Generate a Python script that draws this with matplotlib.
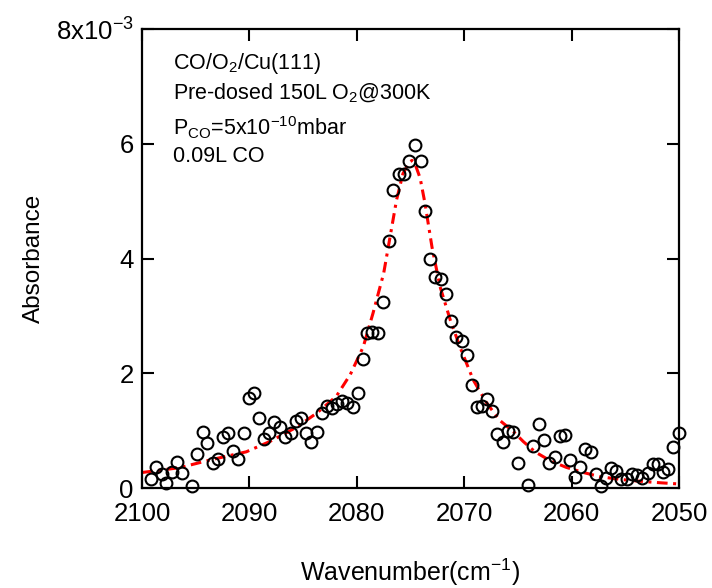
import matplotlib
matplotlib.use("Agg")
import matplotlib.pyplot as plt

plt.rcParams['font.family'] = ['Liberation Sans', 'DejaVu Sans']
plt.rcParams['mathtext.fontset'] = 'custom'
plt.rcParams['mathtext.rm'] = 'Liberation Sans'
plt.rcParams['mathtext.it'] = 'Liberation Sans'
plt.rcParams['mathtext.default'] = 'regular'

# measured data (wavenumber in cm^-1, absorbance in units of 1e-3)
wavenumber = [2099.19, 2098.70, 2098.17, 2097.77, 2097.23, 2096.77, 2096.30, 2095.34,
              2094.85, 2094.35, 2093.92, 2093.42, 2092.90, 2092.43, 2091.96, 2091.50,
              2091.03, 2090.50, 2090.01, 2089.54, 2089.08, 2088.61, 2088.15, 2087.68,
              2087.15, 2086.69, 2086.15, 2085.69, 2085.20, 2084.73, 2084.26, 2083.73,
              2083.27, 2082.80, 2082.31, 2081.87, 2081.41, 2080.88, 2080.38, 2079.86,
              2079.39, 2079.02, 2078.61, 2078.00, 2077.53, 2077.00, 2076.60, 2076.07,
              2075.61, 2075.11, 2074.58, 2074.05, 2073.65, 2073.18, 2072.69, 2072.19,
              2071.69, 2071.26, 2070.76, 2070.23, 2069.77, 2069.30, 2068.84, 2068.37,
              2067.85, 2067.38, 2066.92, 2066.42, 2065.95, 2065.43, 2064.96, 2064.03,
              2063.57, 2063.06, 2062.54, 2062.08, 2061.57, 2061.08, 2060.61, 2060.15,
              2059.68, 2059.22, 2058.75, 2058.22, 2057.76, 2057.29, 2056.80, 2056.33,
              2055.87, 2055.37, 2054.87, 2054.40, 2053.94, 2053.42, 2052.92, 2052.45,
              2051.98, 2051.52, 2051.00, 2050.53, 2050.00]
absorbance = [0.152, 0.371, 0.244, 0.092, 0.284, 0.458, 0.256, 0.035,
              0.592, 0.976, 0.779, 0.430, 0.510, 0.894, 0.963, 0.650,
              0.500, 0.963, 1.568, 1.650, 1.214, 0.854, 0.953, 1.150,
              1.068, 0.883, 0.953, 1.172, 1.214, 0.963, 0.801, 0.981,
              1.301, 1.429, 1.389, 1.458, 1.521, 1.486, 1.406, 1.650,
              2.253, 2.706, 2.718, 2.706, 3.240, 4.303, 5.192, 5.465,
              5.476, 5.692, 5.976, 5.692, 4.826, 3.984, 3.681, 3.636,
              3.380, 2.915, 2.636, 2.556, 2.312, 1.794, 1.416, 1.434,
              1.556, 1.347, 0.941, 0.801, 0.998, 0.976, 0.430, 0.047,
              0.732, 1.115, 0.836, 0.441, 0.535, 0.906, 0.923, 0.488,
              0.186, 0.361, 0.685, 0.627, 0.244, 0.035, 0.169, 0.343,
              0.301, 0.152, 0.152, 0.244, 0.221, 0.169, 0.267, 0.418,
              0.418, 0.279, 0.336, 0.709, 0.953]

# fitted curve
fit_wavenumber = [2100.0, 2096.5, 2093.4, 2090.3, 2088.1, 2085.6, 2083.7, 2081.9,
                  2080.6, 2079.4, 2078.5, 2077.5, 2076.9, 2076.3, 2075.7, 2075.1,
                  2074.85, 2074.6, 2074.1, 2073.65, 2073.0, 2072.25, 2071.3, 2070.4,
                  2069.15, 2067.9, 2066.7, 2065.4, 2064.5, 2063.4, 2062.0, 2060.5,
                  2058.9, 2057.35, 2055.5, 2053.6, 2051.8, 2050.0]
fit_absorbance = [0.27, 0.354, 0.50, 0.63, 0.81, 1.06, 1.31, 1.60,
                  1.98, 2.46, 3.04, 3.74, 4.38, 5.02, 5.48, 5.68,
                  5.71, 5.66, 5.40, 4.96, 4.20, 3.51, 2.93, 2.46,
                  1.88, 1.48, 1.18, 0.98, 0.81, 0.63, 0.476, 0.36,
                  0.27, 0.197, 0.15, 0.117, 0.092, 0.07]

x_ticks = [2100, 2090, 2080, 2070, 2060, 2050]
y_ticks = [0, 2, 4, 6, 8]
y_ticklabels = ['0', '2', '4', '6', '8x10$^{-3}$']

annotations = ['CO/O$_2$/Cu(111)',
               'Pre-dosed 150L O$_2$@300K',
               'P$_{CO}$=5x10$^{-10}$mbar',
               '0.09L CO']

fig = plt.figure(figsize=(7.12, 5.88), dpi=100)
ax = fig.add_axes([142/712, 1 - 488/588, 537/712, 459/588])

ax.plot(fit_wavenumber, fit_absorbance, color='#ff0000', lw=2.2,
        linestyle=(0, (3.5, 1.8, 1, 1.8)), zorder=2)
ax.plot(wavenumber, absorbance, linestyle='none', marker='o', markersize=8.5,
        markerfacecolor='none', markeredgecolor='black', markeredgewidth=1.5,
        zorder=3, clip_on=False)

ax.set_xlim(2100, 2050)
ax.set_ylim(0, 8)
ax.set_xticks(x_ticks)
ax.set_xticklabels([str(t) for t in x_ticks])
ax.set_yticks(y_ticks)
ax.set_yticklabels(y_ticklabels)

for s in ax.spines.values():
    s.set_linewidth(1.6)
ax.tick_params(direction='in', length=8.5, width=1.5, labelsize=18.5,
               top=True, right=True)
ax.tick_params(axis='x', pad=10)
ax.tick_params(axis='y', pad=6)

ax.set_xlabel('Wavenumber(cm$^{-1}$)', fontsize=18, labelpad=22)
ax.set_ylabel('Absorbance', fontsize=17.5, labelpad=8)

ys = [0.913, 0.847, 0.769, 0.711]
for txt, yy in zip(annotations, ys):
    ax.text(0.058, yy, txt, transform=ax.transAxes, fontsize=15.5, va='baseline',
            ha='left')

fig.savefig('out.png', dpi=100)
